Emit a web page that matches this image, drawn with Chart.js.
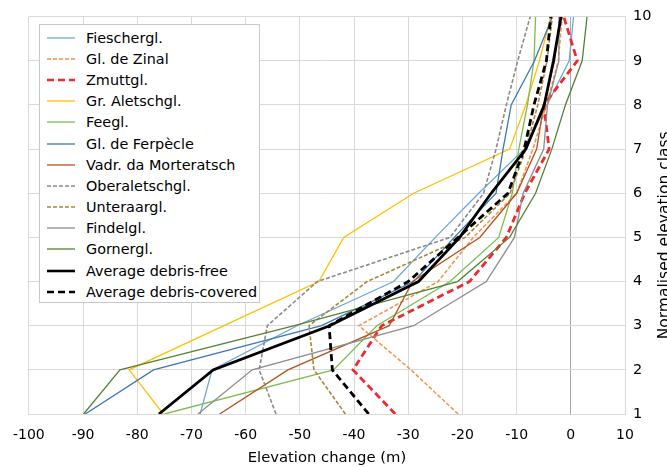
<!DOCTYPE html>
<html>
<head>
<meta charset="utf-8">
<script src="https://cdn.jsdelivr.net/npm/chart.js@4/dist/chart.umd.min.js"></script>
<style>
  body { margin: 0; background: #fff; overflow: hidden; }
  #wrap { position: relative; width: 667px; height: 467px; }
  #legend {
    position: absolute; left: 39px; top: 24px; width: 221px; height: 279px;
    box-sizing: border-box; border: 1px solid #c8c8c8; background: #fff;
    padding-top: 2px; font: 14.4px "DejaVu Sans", sans-serif; color: #000;
  }
  .row { height: 21.2px; display: flex; align-items: center; white-space: nowrap; }
  .row svg { margin-left: 7px; margin-right: 11px; flex: none; }
</style>
</head>
<body>
<div id="wrap">
  <canvas id="chart" width="667" height="467"></canvas>
  <div id="legend"></div>
</div>
<script>
// normalised elevation class (y) and elevation change in m (x)
const classes     = [1, 2, 3, 4, 5, 6, 7, 8, 9, 10]
const fieschergl  = [-68.4, -66.2, -50.5, -32.7, -25, -17, -8.6, -4.4, -0.3, 0.5]
const zinal       = [-20.8, -29.5, -39.1, -24.5, -18, -10, -7, -4.5, -2.3, -1.6]
const zmutt       = [-32.4, -40.2, -34.9, -18.7, -11.9, -8.5, -4, -5, 1.2, -1.3]
const aletsch     = [-75.2, -81.5, -64, -46.5, -41.9, -29, -11.3, -8.3, -5.8, -3.7]
const fee         = [-75, -43.8, -35.8, -22.3, -13.3, -10.8, -9.6, -8, -6.8, -6.5]
const ferpecle    = [-89.6, -77, -46, -29, -21.5, -13.8, -12.5, -11, -6.7, -3.4]
const morteratsch = [-64.8, -52.2, -33.5, -29.2, -16.8, -10, -6.3, -5, -3, -2]
const oberaletsch = [-54.4, -57.5, -56, -46.8, -22.3, -16.1, -13.8, -11.9, -9.8, -7.5]
const unteraar    = [-41.6, -47.4, -48.3, -37.6, -19.5, -11.2, -8.3, -6.1, -4.4, -3.4]
const findel      = [-68.8, -58.8, -29, -15.6, -10.4, -8.8, -5, -4.3, -2.2, -2.2]
const gorner      = [-89.9, -83.2, -51, -20.9, -11.3, -6.5, -3.5, -1, 2.1, 3]
const avgFree     = [-76, -66, -44.5, -28.1, -20.5, -14.7, -8.3, -4.9, -3.2, -1.8]
const avgCovered  = [-37.3, -44, -44.6, -30, -20.8, -11.6, -8.6, -6.8, -4.5, -3.7]

const series = [
  { name: 'Fieschergl.',           values: fieschergl,  color: '#6fa6da', width: 1.3 },
  { name: 'Gl. de Zinal',          values: zinal,       color: '#f4914b', width: 1.5, dash: [4, 2] },
  { name: 'Zmuttgl.',              values: zmutt,       color: '#ee2a2f', width: 2.8, dash: [7, 4] },
  { name: 'Gr. Aletschgl.',        values: aletsch,     color: '#ffc000', width: 1.3 },
  { name: 'Feegl.',                values: fee,         color: '#7dbb4f', width: 1.3 },
  { name: 'Gl. de Ferpècle',       values: ferpecle,    color: '#3b78b5', width: 1.3 },
  { name: 'Vadr. da Morteratsch',  values: morteratsch, color: '#b5531f', width: 1.3 },
  { name: 'Oberaletschgl.',        values: oberaletsch, color: '#8a8a8a', width: 1.6, dash: [4, 2] },
  { name: 'Unteraargl.',           values: unteraar,    color: '#a7873a', width: 1.6, dash: [4, 2] },
  { name: 'Findelgl.',             values: findel,      color: '#8c8c8c', width: 1.3 },
  { name: 'Gornergl.',             values: gorner,      color: '#548235', width: 1.3 },
  { name: 'Average debris-free',   values: avgFree,     color: '#000000', width: 2.8 },
  { name: 'Average debris-covered',values: avgCovered,  color: '#000000', width: 2.8, dash: [7, 4] }
]

// html legend inside the plot area
const legend = document.getElementById('legend')
series.forEach(s => {
  const row = document.createElement('div')
  row.className = 'row'
  const dash = s.dash ? ` stroke-dasharray="${s.dash.join(' ')}"` : ''
  row.innerHTML = `<svg width="28" height="6"><line x1="0" y1="3" x2="28" y2="3" stroke="${s.color}" stroke-width="${Math.min(s.width, 2.6)}"${dash}/></svg><span>${s.name}</span>`
  legend.appendChild(row)
})

// right-hand axis title reads bottom to top and runs off the edge
const yTitle = {
  id: 'yTitle',
  afterDraw(chart) {
    const ctx = chart.ctx
    const area = chart.chartArea
    ctx.save()
    ctx.translate(chart.width - 2, (area.top + area.bottom) / 2 + 20)
    ctx.rotate(-Math.PI / 2)
    ctx.font = '15.5px "DejaVu Sans"'
    ctx.fillStyle = '#000'
    ctx.textAlign = 'center'
    ctx.textBaseline = 'middle'
    ctx.fillText('Normalised elevation class', 0, 0)
    ctx.restore()
  }
}

const gridColor = c => (c.tick && c.tick.value === 0 ? '#a6a6a6' : '#d9d9d9')

new Chart(document.getElementById('chart'), {
  type: 'scatter',
  data: {
    datasets: series.map((s, i) => ({
      label: s.name,
      data: s.values.map((v, j) => ({ x: v, y: classes[j] })),
      showLine: true,
      borderColor: s.color,
      backgroundColor: s.color,
      borderWidth: s.width,
      borderDash: s.dash || [],
      pointRadius: 0,
      tension: 0,
      order: series.length - i
    }))
  },
  options: {
    responsive: false,
    animation: false,
    layout: { padding: { left: 25, top: 16, right: 0, bottom: 0 } },
    plugins: { legend: { display: false }, tooltip: { enabled: false } },
    scales: {
      x: {
        type: 'linear',
        min: -100,
        max: 10,
        afterFit: s => { s.height = 53 },
        ticks: { stepSize: 10, padding: 13, color: '#000', font: { family: 'DejaVu Sans', size: 14 } },
        grid: { color: gridColor, drawTicks: false },
        border: { color: '#d9d9d9' },
        title: { display: true, text: 'Elevation change (m)', color: '#000', padding: 0, font: { family: 'DejaVu Sans', size: 14.8 } }
      },
      y: {
        type: 'linear',
        position: 'right',
        min: 1,
        max: 10,
        afterFit: s => { s.width = 42 },
        ticks: { stepSize: 1, padding: 8, color: '#000', font: { family: 'DejaVu Sans', size: 14.5 } },
        grid: { color: '#d9d9d9', drawTicks: false },
        border: { color: '#d9d9d9' }
      }
    }
  },
  plugins: [yTitle]
})
</script>
</body>
</html>
